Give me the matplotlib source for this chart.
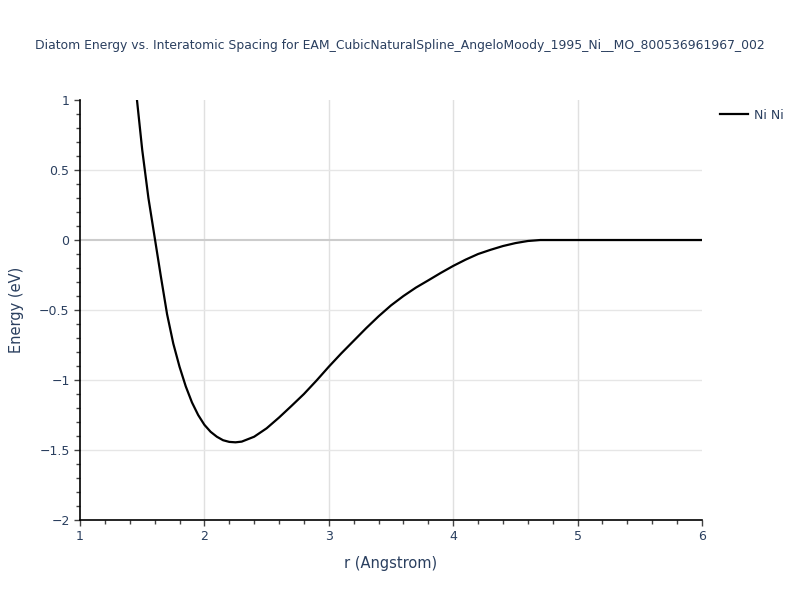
import numpy as np
from matplotlib import pyplot as plt
from matplotlib.ticker import MultipleLocator, FuncFormatter

# values
r_vals = [1.458, 1.5, 1.55, 1.6, 1.65, 1.7, 1.75, 1.8, 1.85, 1.9, 1.95, 2.0,
          2.05, 2.1, 2.15, 2.2, 2.25, 2.3, 2.4, 2.5, 2.6, 2.7, 2.8, 2.9,
          3.0, 3.1, 3.2, 3.3, 3.4, 3.5, 3.6, 3.7, 3.8, 3.9, 4.0, 4.1,
          4.2, 4.3, 4.4, 4.5, 4.6, 4.7, 4.8, 5.0, 5.5, 6.0]
e_vals = [1.0, 0.645, 0.30, 0.02, -0.26, -0.53, -0.74, -0.905, -1.045, -1.16, -1.25, -1.32,
          -1.37, -1.405, -1.43, -1.442, -1.445, -1.44, -1.405, -1.345, -1.268, -1.185, -1.10, -1.005,
          -0.905, -0.81, -0.72, -0.63, -0.545, -0.467, -0.40, -0.34, -0.288, -0.235, -0.185, -0.14,
          -0.10, -0.07, -0.043, -0.022, -0.007, 0.0, 0.0, 0.0, 0.0, 0.0]
series_name = "Ni Ni"
title = "Diatom Energy vs. Interatomic Spacing for EAM_CubicNaturalSpline_AngeloMoody_1995_Ni__MO_800536961967_002"

txt = "#2a3f5f"
plt.rcParams['font.family'] = ['DejaVu Sans']

fig = plt.figure(figsize=(8, 6), dpi=100)
ax = fig.add_axes([0.1, 0.1333, 0.7775, 0.7])

ax.plot(r_vals, e_vals, color='black', linewidth=1.6, label=series_name, zorder=3)

ax.set_xlim(1, 6)
ax.set_ylim(-2, 1)
ax.xaxis.set_major_locator(MultipleLocator(1))
ax.xaxis.set_minor_locator(MultipleLocator(0.2))
ax.yaxis.set_major_locator(MultipleLocator(0.5))
ax.yaxis.set_minor_locator(MultipleLocator(0.1))
fmt = FuncFormatter(lambda v, p: ("%g" % v).replace("-", "\u2212"))
ax.xaxis.set_major_formatter(fmt)
ax.yaxis.set_major_formatter(fmt)

# grid lines inside the plot only (none on the frame edges)
for xv in [2, 3, 4, 5]:
    ax.axvline(xv, color='#e0e0e0', linewidth=1, zorder=1)
for yv in [0.5, -0.5, -1, -1.5]:
    ax.axhline(yv, color='#e6e6e6', linewidth=1, zorder=1)
ax.axhline(0, color='#cccccc', linewidth=1.5, zorder=2)

for s in ['top', 'right']:
    ax.spines[s].set_visible(False)
for s in ['bottom', 'left']:
    ax.spines[s].set_color('black')
    ax.spines[s].set_linewidth(1.2)

ax.tick_params(which='major', direction='out', length=4, width=1, color='#444444',
               labelcolor=txt, labelsize=9)
ax.tick_params(which='minor', direction='out', length=3, width=1, color='#444444')

ax.set_xlabel("r (Angstrom)", color=txt, fontsize=10.5, labelpad=9)
ax.set_ylabel("Energy (eV)", color=txt, fontsize=10.5, labelpad=11)

fig.text(0.5, 0.925, title, ha='center', va='center', color=txt, fontsize=8.9)

leg = ax.legend(loc='upper left', bbox_to_anchor=(1.015, 1.0), frameon=False,
                fontsize=9, handlelength=2.2, handletextpad=0.5, borderaxespad=0.3)
for t in leg.get_texts():
    t.set_color(txt)

fig.savefig("out.png", dpi=100)
